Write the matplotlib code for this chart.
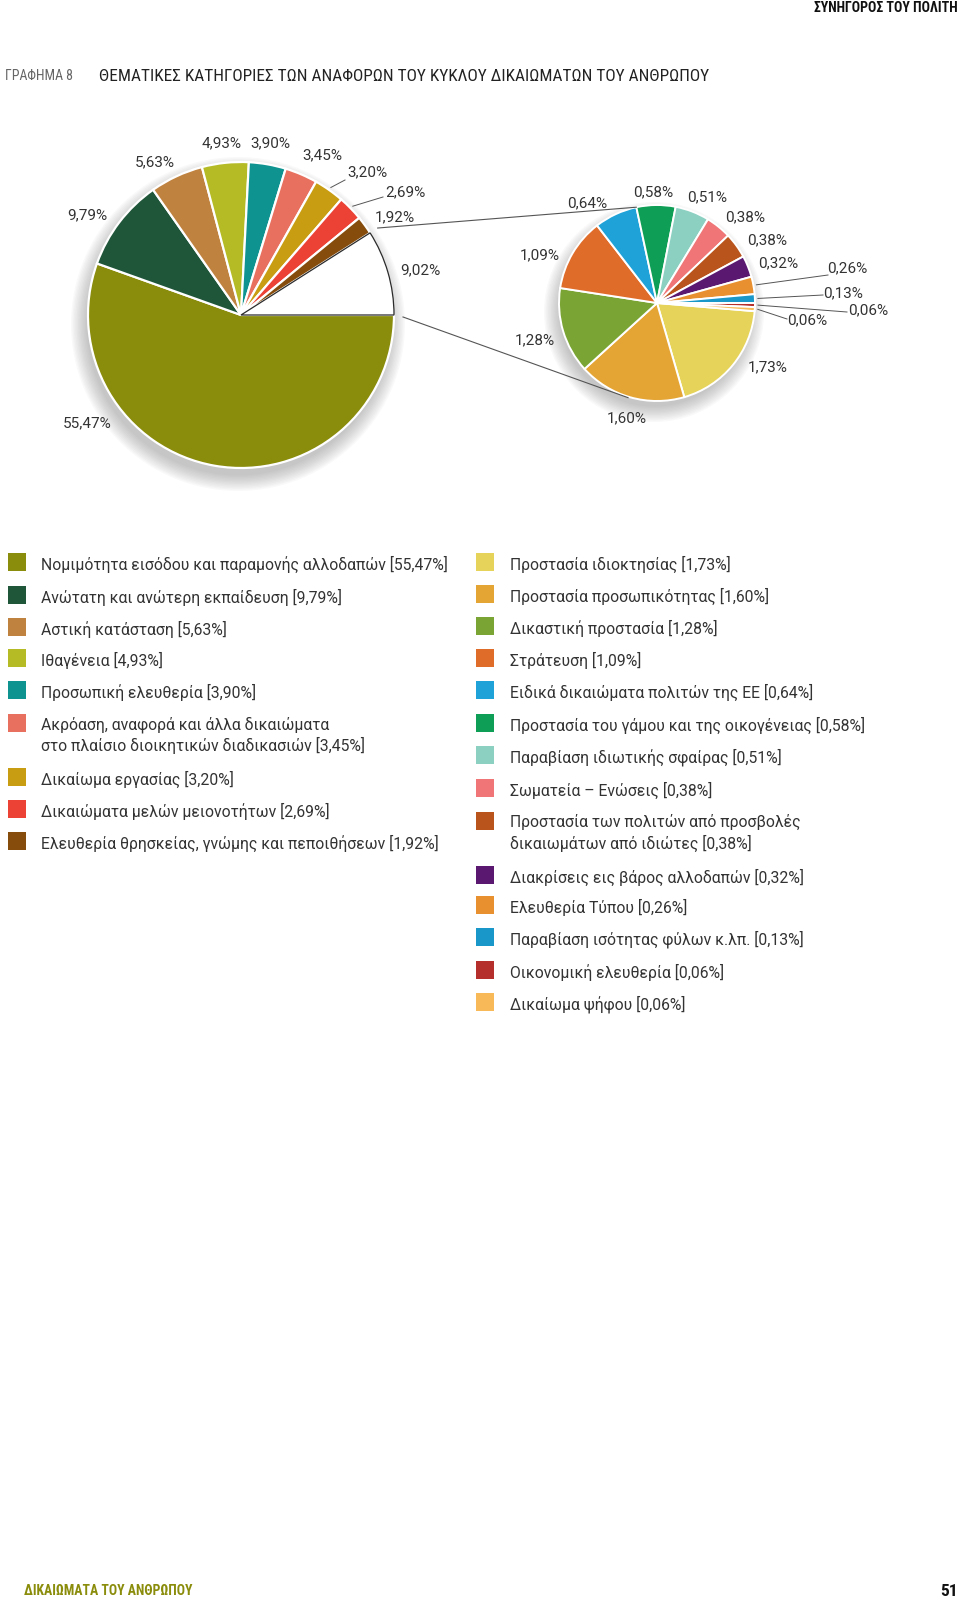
import numpy as np
import matplotlib.pyplot as plt
from matplotlib.patches import Circle

W, H = 960, 1601

# main pie, clockwise from 3 o'clock; the rest (9,02%) is broken out in the small pie
main_names = [
    'Νομιμότητα εισόδου και παραμονής αλλοδαπών',
    'Ανώτατη και ανώτερη εκπαίδευση',
    'Αστική κατάσταση',
    'Ιθαγένεια',
    'Προσωπική ελευθερία',
    'Ακρόαση, αναφορά και άλλα δικαιώματα\nστο πλαίσιο διοικητικών διαδικασιών',
    'Δικαίωμα εργασίας',
    'Δικαιώματα μελών μειονοτήτων',
    'Ελευθερία θρησκείας, γνώμης και πεποιθήσεων',
]
main_values = [55.47, 9.79, 5.63, 4.93, 3.90, 3.45, 3.20, 2.69, 1.92]
main_colors = ['#8a8c0b', '#1f563a', '#c0823f', '#b4bb25', '#0e9390',
               '#e8705f', '#c99d12', '#ec4236', '#854c0c']
rest_value = 9.02

other_names = [
    'Προστασία ιδιοκτησίας',
    'Προστασία προσωπικότητας',
    'Δικαστική προστασία',
    'Στράτευση',
    'Ειδικά δικαιώματα πολιτών της ΕΕ',
    'Προστασία του γάμου και της οικογένειας',
    'Παραβίαση ιδιωτικής σφαίρας',
    'Σωματεία – Ενώσεις',
    'Προστασία των πολιτών από προσβολές\nδικαιωμάτων από ιδιώτες',
    'Διακρίσεις εις βάρος αλλοδαπών',
    'Ελευθερία Τύπου',
    'Παραβίαση ισότητας φύλων κ.λπ.',
    'Οικονομική ελευθερία',
    'Δικαίωμα ψήφου',
]
other_values = [1.73, 1.60, 1.28, 1.09, 0.64, 0.58, 0.51, 0.38, 0.38, 0.32, 0.26, 0.13, 0.06, 0.06]
other_colors = ['#e6d35a', '#e4a535', '#7aa534', '#e06c2a', '#1ea2d8', '#0f9e55',
                '#8cd0c2', '#ef7576', '#b9541d', '#5b1870', '#e8902f', '#1897c8',
                '#b5302c', '#f8ba58']

# layout (pixel coordinates, y from the top)
main_c, main_r = (241, 315), 153
small_c, small_r = (657, 303), 98
small_start = -4.8

main_lab_pos = [(87, 423), (87, 215), (155, 162), (222, 143), (270, 143),
                (322, 155), (367, 172), (405, 192), (395, 217)]
rest_lab_pos = (420, 270)
main_leaders = {6: (345, 180), 7: (383, 197)}

small_lab_pos = [(768, 367), (627, 418), (535, 340), (540, 255), (587, 203),
                 (653, 192), (707, 197), (745, 217), (767, 240), (778, 263),
                 (847, 268), (843, 293), (868, 310), (807, 320)]
small_leaders = {10: (828, 275), 11: (823, 295), 12: (847, 312), 13: (787, 319)}

left_rows = [562, 595, 627, 658, 690, 723, 777, 809, 841]
right_rows = [562, 594, 626, 658, 690, 723, 755, 788, 821, 875, 905, 937, 970, 1002]

TXT = '#333333'
FONT = ['Roboto', 'DejaVu Sans']
NARROW = ['Roboto Condensed', 'Roboto', 'DejaVu Sans']


def Y(y):
    return H - y


def pct(v):
    return f'{v:.2f}'.replace('.', ',') + '%'


def rim(c, r, ang):
    a = np.deg2rad(ang)
    return c[0] + r * np.cos(a), Y(c[1]) + r * np.sin(a)


def shadow(ax, c, r):
    for k in range(12):
        ax.add_patch(Circle((c[0] - 3, Y(c[1]) - 9), r + 14 - k * 1.4,
                            color='#6a6a6a', alpha=0.035, lw=0, zorder=1))


fig = plt.figure(figsize=(W / 100, H / 100), dpi=100)
ax = fig.add_axes([0, 0, 1, 1])

shadow(ax, main_c, main_r)
shadow(ax, small_c, small_r * 0.98)

wm, _ = ax.pie(main_values + [rest_value], colors=main_colors + ['white'],
               center=(main_c[0], Y(main_c[1])), radius=main_r,
               startangle=0, counterclock=False,
               wedgeprops=dict(edgecolor='white', linewidth=1.6))
for w in wm:
    w.set_zorder(3)
wm[-1].set_edgecolor('#2b2b2b')
wm[-1].set_linewidth(0.9)
wm[-1].set_zorder(4)

ws, _ = ax.pie(other_values, colors=other_colors,
               center=(small_c[0], Y(small_c[1])), radius=small_r,
               startangle=small_start, counterclock=False,
               wedgeprops=dict(edgecolor='white', linewidth=1.4))
for w in ws:
    w.set_zorder(3)

ax.set_xlim(0, W)
ax.set_ylim(0, H)
ax.axis('off')

# pie labels
for v, (x, y) in zip(main_values, main_lab_pos):
    ax.text(x, Y(y), pct(v), ha='center', va='center', fontsize=11,
            color=TXT, family=FONT)
ax.text(rest_lab_pos[0], Y(rest_lab_pos[1]), pct(rest_value), ha='center',
        va='center', fontsize=11, color=TXT, family=FONT)
for v, (x, y) in zip(other_values, small_lab_pos):
    ax.text(x, Y(y), pct(v), ha='center', va='center', fontsize=11,
            color=TXT, family=FONT)

# leader lines
for i, (ex, ey) in main_leaders.items():
    w = wm[i]
    mid = (w.theta1 + w.theta2) / 2
    sx, sy = rim(main_c, main_r + 3, mid)
    ax.plot([sx, ex], [sy, Y(ey)], color='#555555', lw=0.7, zorder=5)
for i, (ex, ey) in small_leaders.items():
    w = ws[i]
    mid = (w.theta1 + w.theta2) / 2
    sx, sy = rim(small_c, small_r + 3, mid)
    ax.plot([sx, ex], [sy, Y(ey)], color='#555555', lw=0.7, zorder=5)

# connectors between the white slice and the small pie
top_a = 360 * rest_value / (sum(main_values) + rest_value)
p1 = rim(main_c, main_r + 9, top_a)
p2 = rim(main_c, main_r + 9, -0.7)
q1 = rim(small_c, small_r, 102.2)
q2 = rim(small_c, small_r + 1, -107)
ax.plot([p1[0], q1[0]], [p1[1], q1[1]], color='#555555', lw=0.8, zorder=5)
ax.plot([p2[0], q2[0]], [p2[1], q2[1]], color='#555555', lw=0.8, zorder=5)

# legends
sq = 18
for name, v, col, y in zip(main_names, main_values, main_colors, left_rows):
    ax.add_patch(plt.Rectangle((8, Y(y) - sq / 2), sq, sq, color=col, lw=0))
    ax.text(41, Y(y) - 2 - (10 if '\n' in name else 0),
            f'{name} [{pct(v)}]', ha='left', va='center', fontsize=11.3,
            color=TXT, family=FONT, linespacing=1.3)
for name, v, col, y in zip(other_names, other_values, other_colors, right_rows):
    ax.add_patch(plt.Rectangle((476, Y(y) - sq / 2), sq, sq, color=col, lw=0))
    ax.text(510, Y(y) - 2 - (10 if '\n' in name else 0),
            f'{name} [{pct(v)}]', ha='left', va='center', fontsize=11.3,
            color=TXT, family=FONT, linespacing=1.3)

# page texts
ax.text(958, Y(8), 'ΣΥΝΗΓΟΡΟΣ ΤΟΥ ΠΟΛΙΤΗ', ha='right', va='center',
        fontsize=10, weight='bold', color='#111111', family=NARROW)
ax.text(5, Y(76), 'ΓΡΑΦΗΜΑ 8', ha='left', va='center', fontsize=10,
        color='#666666', family=NARROW)
ax.text(99, Y(76), 'ΘΕΜΑΤΙΚΕΣ ΚΑΤΗΓΟΡΙΕΣ ΤΩΝ ΑΝΑΦΟΡΩΝ ΤΟΥ ΚΥΚΛΟΥ ΔΙΚΑΙΩΜΑΤΩΝ ΤΟΥ ΑΝΘΡΩΠΟΥ',
        ha='left', va='center', fontsize=12.4, color='#222222', family=NARROW)
ax.text(24, Y(1591), 'ΔΙΚΑΙΩΜΑΤΑ ΤΟΥ ΑΝΘΡΩΠΟΥ', ha='left', va='center',
        fontsize=9.9, weight='bold', color='#8a8c0b', family=NARROW)
ax.text(958, Y(1591), '51', ha='right', va='center', fontsize=12.5,
        weight='bold', color='#111111', family=NARROW)

fig.savefig('out.png', dpi=100)
